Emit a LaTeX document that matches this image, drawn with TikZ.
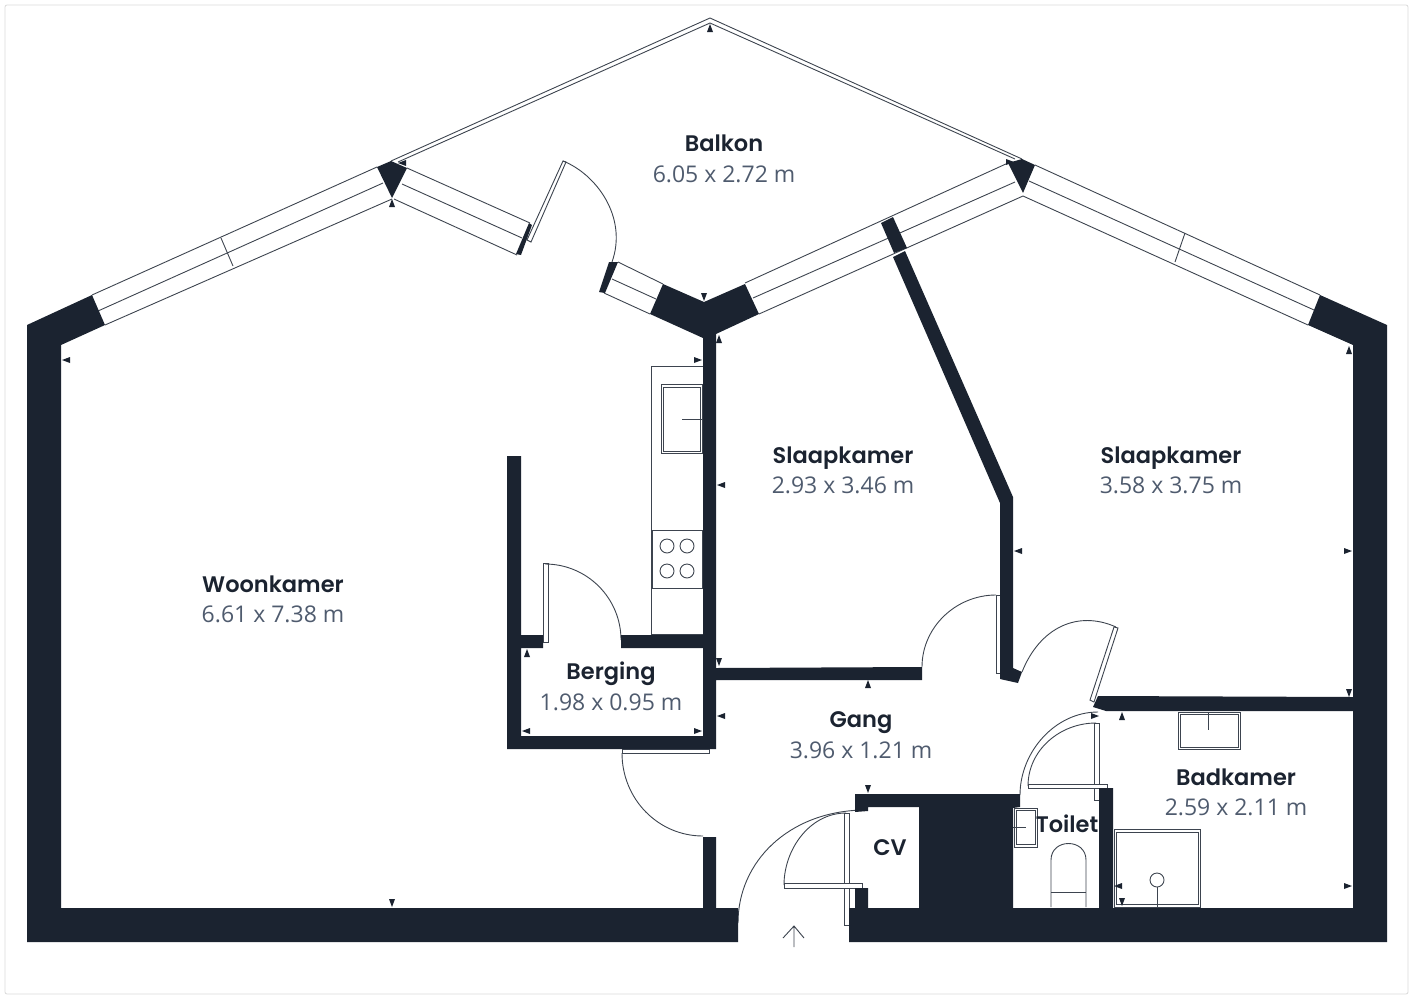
\documentclass[tikz,border=0pt]{standalone}
\usepackage{fontspec}
\newfontfamily\namefont{Poppins SemiBold}
\newfontfamily\sizefont{Open Sans}
\usetikzlibrary{positioning}
\definecolor{wallc}{HTML}{1B2330}
\definecolor{sizec}{HTML}{4F5B6E}
\tikzset{
  wall/.style={fill=wallc,draw=none},
  thinl/.style={draw=wallc!85,line width=.9pt},
  panel/.style={draw=wallc!85,line width=.9pt,fill=white},
  tick/.style={fill=wallc,draw=none},
  roomname/.style={inner sep=0pt,anchor=base,font=\namefont\fontsize{22.5}{24}\selectfont,text=wallc},
  roomsize/.style={inner sep=0pt,anchor=base,font=\sizefont\fontsize{23}{24}\selectfont,text=sizec}
}
\begin{document}
\begin{tikzpicture}[x=1pt,y=-1pt]
\useasboundingbox (0,0) rectangle (1413,999);
\draw[draw=black!15,line width=.8pt,rounded corners=2pt] (5,5) rectangle (1408,994);

% balcony rail
\draw[thinl] (391,161) -- (710,18) -- (1022,159);
\draw[thinl] (398,162) -- (710,23) -- (1015,159);

% windows
\draw[thinl] (92,295) -- (377,167) (98,311) -- (383,183) (105,325) -- (392,199);
\draw[thinl] (221,238) -- (233,266);
\draw[thinl] (407,168) -- (530,223) (402,184) -- (522,238) (394,199) -- (517,255);
\draw[thinl] (618,262) -- (663,284) (612,279) -- (656,299) (604,293) -- (650,314);
\draw[thinl] (745,283) -- (1008,163) (753,298) -- (1015,182) (759,314) -- (1023,196);
\draw[thinl] (1035,165) -- (1320,295) (1029,181) -- (1314,310) (1023,196) -- (1308,325);
\draw[thinl] (1185,233) -- (1175,262);

% kitchen
\draw[thinl] (703,366) -- (651,366) -- (651,634) -- (703,634);
\draw[thinl] (661,384) rectangle (702,453) (663,387) rectangle (700,451);
\draw[thinl] (682,419) -- (703,419);
\draw[thinl] (652,530) rectangle (702,588);
\foreach \x/\y in {667/546,687/546,667/571,687/571}
 \draw[thinl] (\x,\y) circle [radius=7];

% bathroom and toilet
\draw[thinl] (1178,712) rectangle (1240,749) (1180,714) rectangle (1238,747);
\draw[thinl] (1208,712) -- (1208,730);
\draw[thinl] (1014,808) rectangle (1037,847) (1016,810) rectangle (1035,844);
\draw[thinl] (1013,827) -- (1026,827);
\draw[thinl] (1051,907) -- (1051,860) .. controls (1051,838) and (1086,838) .. (1086,860) -- (1086,907);
\draw[thinl] (1051,892) -- (1086,892);
\draw[thinl] (1114,829) rectangle (1200,907) (1116,832) rectangle (1198,904);
\draw[thinl] (1157,880) circle [radius=7];
\draw[thinl] (1157,887) -- (1157,907);

% door leaves
\draw[panel] (563,161) -- (566,162) -- (531,242) -- (527,240) -- cycle;
\draw[panel] (543,563) rectangle (548,642);
\draw[panel] (622,749) rectangle (709,753);
\draw[panel] (996,595) rectangle (1000,673);
\draw[panel] (1114,627) -- (1118,628) -- (1094,702) -- (1090,700) -- cycle;
\draw[panel] (1094,723) rectangle (1099,800);
\draw[panel] (1028,784) rectangle (1107,788);
\draw[panel] (844,813) rectangle (849,925);
\draw[panel] (784,883) rectangle (862,888);

% door swings
\draw[thinl] (563,161) .. controls (596,174) and (628,217) .. (612,262);
\draw[thinl] (545,564) .. controls (587,564) and (621,598) .. (621,640);
\draw[thinl] (622,753) .. controls (622,799) and (658,836) .. (703,836);
\draw[thinl] (996,595) .. controls (956,595) and (922,627) .. (922,667);
\draw[thinl] (1022,672) .. controls (1040,627) and (1078,610) .. (1116,627);
\draw[thinl] (1020,795) .. controls (1020,752) and (1055,712) .. (1098,712);
\draw[thinl] (1028,786) .. controls (1028,750) and (1060,723) .. (1096,723);
\draw[thinl] (738,923) .. controls (738,862) and (788,812) .. (862,810);
\draw[thinl] (784,885) .. controls (784,849) and (810,813) .. (846,813);
\draw[thinl] (794,947) -- (794,926) (783,938) -- (794,926) -- (804,938);

% walls
\fill[wall] (27,325) -- (92,295) -- (105,325) -- (61,345) -- (61,908) -- (703,908) -- (703,837) -- (716,837) -- (716,908) -- (738,908) -- (738,942) -- (27,942) -- cycle;
\fill[wall] (1320,295) -- (1387,325) -- (1387,942) -- (849,942) -- (849,908) -- (855,908) -- (855,888) -- (868,888) -- (868,908) -- (919,908) -- (919,807) -- (868,807) -- (868,811) -- (855,812) -- (855,794) -- (1020,794) -- (1020,807) -- (1013,808) -- (1013,908) -- (1099,908) -- (1099,788) -- (1113,788) -- (1113,908) -- (1353,908) -- (1353,345) -- (1308,325) -- cycle;
\fill[wall] (663,284) -- (704,302) -- (745,284) -- (759,314) -- (716,334) -- (716,668) -- (922,667) -- (922,680) -- (716,680) -- (716,749) -- (507,749) -- (507,456) -- (521,456) -- (521,635) -- (543,635) -- (543,648) -- (521,648) -- (521,736) -- (703,736) -- (703,648) -- (621,648) -- (621,635) -- (703,635) -- (703,338) -- (650,314) -- cycle;
\fill[wall] (893,257) -- (905,251) -- (1013,497) -- (1013,668) -- (1022,672) -- (1018,683) -- (1000,679) -- (1000,503) -- cycle;
\fill[wall] (881,223) -- (893,217) -- (907,248) -- (894,253) -- cycle;
\fill[wall] (1098,696) -- (1353,697) -- (1353,711) -- (1106,711) -- (1093,707) -- cycle;
\fill[wall] (377,167) -- (391,161) -- (407,168) -- (392,198) -- cycle;
\fill[wall] (1008,163) -- (1022,159) -- (1035,165) -- (1023,193) -- cycle;
\fill[wall] (529,223) -- (532,225) -- (521,255) -- (516,254) -- cycle;
\fill[wall] (609,262) -- (618,262) -- (605,293) -- (599,292) -- cycle;

% dimension ticks
\foreach \x/\y/\a in {392/203/90,402/163/180,710/28/90,704/297/-90,719/339/90,698/360/0,66/360/180,721/485/180,719/662/-90,721/716/180,527/653/90,526/731/180,698/731/0,868/684/90,868/789/-90,1018/551/180,1348/551/0,1349/350/90,1349/693/-90,392/903/-90,1122/716/90,1095/716/0,1118/886/180,1348/886/0,1122/902/-90,1010/162/0}
 \fill[tick,shift={(\x,\y)},rotate=\a] (4,0) -- (-4,-3) -- (-4,3) -- cycle;

% room labels
\node[roomname] (balkon) at (724,151) {Balkon};
\node[roomsize] (balkonm) at (724,182) {6.05 x 2.72 m};
\node[roomname] (woon) at (273,592) {Woonkamer};
\node[roomsize] (woonm) at (273,622) {6.61 x 7.38 m};
\node[roomname] (slaapa) at (843,463) {Slaapkamer};
\node[roomsize] (slaapam) at (843,493) {2.93 x 3.46 m};
\node[roomname] (slaapb) at (1171,463) {Slaapkamer};
\node[roomsize] (slaapbm) at (1171,493) {3.58 x 3.75 m};
\node[roomname] (berging) at (611,679) {Berging};
\node[roomsize] (bergingm) at (611,710) {1.98 x 0.95 m};
\node[roomname] (gang) at (861,727) {Gang};
\node[roomsize] (gangm) at (861,758) {3.96 x 1.21 m};
\node[roomname] (bad) at (1236,785) {Badkamer};
\node[roomsize] (badm) at (1236,815) {2.59 x 2.11 m};
\node[roomname] (cv) at (890,855) {CV};
\node[roomname] (toilet) at (1067,832) {Toilet};
\end{tikzpicture}
\end{document}
